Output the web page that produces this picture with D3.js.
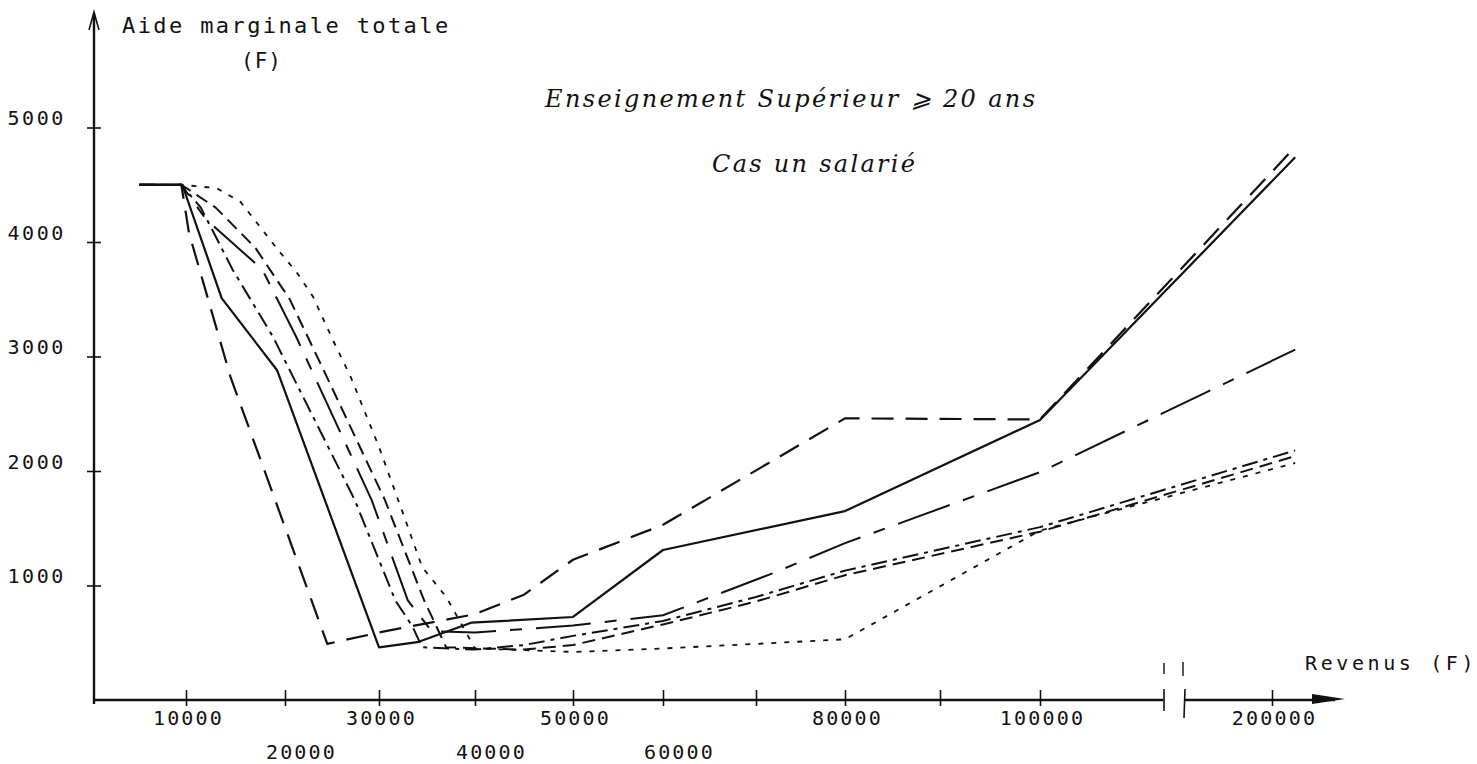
<!DOCTYPE html>
<html><head><meta charset="utf-8">
<script src="https://cdn.jsdelivr.net/npm/d3@7/dist/d3.min.js"></script>
<style>body{margin:0;background:#fff}svg{display:block}</style>
</head><body>
<svg id="chart" width="1477" height="764"></svg>
<script>
// ---- data ----
const xTickValues = [10000,20000,30000,40000,50000,60000,70000,80000,90000,100000,200000];
const xTickLabels = ["10000","20000","30000","40000","50000","60000","","80000","","100000","200000"];
const xTickRow    = [0,1,0,1,0,1,0,0,0,0,0];
const yTickValues = [1000,2000,3000,4000,5000];
const yTickLabels = ["1000","2000","3000","4000","5000"];

// revenu (F), aide marginale totale (F)
const serieTrait = [[5000,4500],[9600,4500],[13600,3510],[19200,2880],[30000,460],[34000,505],[39600,675],[50000,725],[60000,1310],[80000,1650],[100000,2445],[210000,4740]];
const serieTiretsLongs = [[5000,4500],[9500,4500],[10300,4080],[14500,2820],[24500,490],[30300,595],[40000,750],[45000,920],[50000,1225],[60000,1530],[80000,2460],[100000,2450],[210000,4830]];
const serieMixte = [[5000,4500],[9500,4500],[12000,4200],[17700,3760],[21200,3170],[29200,1750],[33000,870],[35500,600],[40000,590],[50000,650],[60000,740],[72000,1110],[80000,1370],[100000,1990],[210000,3060]];
const serieTirets1 = [[5000,4500],[9500,4500],[11500,4300],[14700,3760],[18800,3170],[27400,1750],[31700,870],[33500,640],[34500,460],[40000,440],[45000,480],[50000,560],[60000,690],[70000,900],[80000,1130],[100000,1510],[210000,2180]];
const serieTirets2 = [[5000,4500],[9500,4500],[13000,4300],[17000,3950],[20500,3500],[24000,2900],[30600,1750],[34700,870],[37000,460],[45000,440],[50000,480],[60000,660],[70000,860],[80000,1090],[100000,1470],[210000,2130]];
const seriePointilles = [[5000,4500],[9500,4500],[13100,4470],[15500,4350],[17500,4130],[19300,3930],[21200,3740],[23000,3520],[25000,3160],[27000,2820],[30000,2210],[32500,1630],[34500,1160],[37000,900],[40000,450],[50000,420],[60000,450],[70000,490],[80000,530],[100000,1480],[210000,2070]];

const titre1 = "Enseignement Supérieur  ⩾ 20 ans";
const titre2 = "Cas un salarié";
const yTitre = "Aide marginale totale";
const yUnite = "(F)";
const xTitre = "Revenus  (F)";

// ---- drawing ----
const svg = d3.select("#chart");
const ink = "#111";
const mono = "'DejaVu Sans Mono', 'Liberation Mono', monospace";

// hand-drawn axis: irregular graduation spacing
const x = d3.scaleLinear()
  .domain([0,10000,20000,30000,40000,50000,60000,70000,80000,90000,100000,200000])
  .range([93,186,285,379,475,573,663,756,845,940,1040,1272]);
const y = d3.scaleLinear().domain([0,5000]).range([700,127.5]);

// axes lines
const axisG = svg.append("g").attr("stroke", ink).attr("fill","none");
axisG.append("line").attr("x1",94).attr("x2",94).attr("y1",y(0)+4).attr("y2",14).attr("stroke-width",2.4);
axisG.append("path").attr("d","M89,30 L94,12 L99,30").attr("stroke-width",1.6);
axisG.append("line").attr("x1",93).attr("x2",1163).attr("y1",y(0)).attr("y2",y(0)).attr("stroke-width",2.4);
axisG.append("line").attr("x1",1185).attr("x2",1335).attr("y1",y(0)).attr("y2",y(0)).attr("stroke-width",2.4);
axisG.append("path").attr("d","M1312,694 L1345,699 L1312,704 Z").attr("fill",ink).attr("stroke","none");
// break marks
axisG.append("line").attr("x1",1164).attr("x2",1164).attr("y1",689).attr("y2",711).attr("stroke-width",1.6);
axisG.append("line").attr("x1",1185).attr("x2",1184).attr("y1",689).attr("y2",718).attr("stroke-width",1.6);
axisG.append("line").attr("x1",1164).attr("x2",1164).attr("y1",663).attr("y2",674).attr("stroke-width",1.4);
axisG.append("line").attr("x1",1183).attr("x2",1183).attr("y1",662).attr("y2",676).attr("stroke-width",1.4);

// x axis ticks + labels through d3.axisBottom
const xAxis = d3.axisBottom(x).tickValues(xTickValues).tickSize(0).tickFormat((d,i)=>xTickLabels[i]);
const gx = svg.append("g").attr("transform",`translate(0,${y(0)})`).call(xAxis);
gx.select(".domain").remove();
gx.selectAll(".tick line").attr("y1",-10).attr("y2",6).attr("stroke",ink).attr("stroke-width",1.6);
gx.selectAll(".tick text")
  .attr("font-family",mono).attr("font-size",20).attr("letter-spacing",2.2).attr("fill",ink)
  .attr("y",(d,i)=>xTickRow[i] ? 59 : 25)
  .attr("dy",0)
  .attr("dx",(d,i)=>xTickRow[i] ? 16 : 2);

// y axis ticks + labels through d3.axisLeft
const yAxis = d3.axisLeft(y).tickValues(yTickValues).tickSize(0).tickFormat((d,i)=>yTickLabels[i]);
const gy = svg.append("g").attr("transform","translate(94,0)").call(yAxis);
gy.select(".domain").remove();
gy.selectAll(".tick line").attr("x1",-7).attr("x2",7).attr("stroke",ink).attr("stroke-width",1.6);
gy.selectAll(".tick text")
  .attr("font-family",mono).attr("font-size",20).attr("letter-spacing",2.6).attr("fill",ink)
  .attr("x",-28).attr("dy",-3);

// series
const line = d3.line().x(d=>x(d[0])).y(d=>y(d[1]));
const series = [
  {data: seriePointilles, dash:"5,8", w:1.8},
  {data: serieTirets2, dash:"13,7", w:2},
  {data: serieTirets1, dash:"16,6,4,6", w:2},
  {data: serieMixte, dash:"55,14,12,14", w:2},
  {data: serieTiretsLongs, dash:"22,12", w:2.2},
  {data: serieTrait, dash:null, w:2.2}
];
svg.append("g").selectAll("path").data(series).join("path")
  .attr("d",s=>line(s.data))
  .attr("fill","none").attr("stroke",ink)
  .attr("stroke-width",s=>s.w)
  .attr("stroke-dasharray",s=>s.dash)
  .attr("stroke-linejoin","round");

// texts
svg.append("text").attr("x",122).attr("y",33).attr("font-family",mono).attr("font-size",22)
  .attr("letter-spacing",2.4).attr("fill",ink).text(yTitre);
svg.append("text").attr("x",241).attr("y",68).attr("font-family",mono).attr("font-size",21)
  .attr("letter-spacing",1).attr("fill",ink).text(yUnite);
svg.append("text").attr("x",1305).attr("y",670).attr("font-family",mono).attr("font-size",20)
  .attr("letter-spacing",3.6).attr("fill",ink).text(xTitre);
svg.append("text").attr("x",545).attr("y",107).attr("font-family","'DejaVu Serif', serif")
  .attr("font-style","italic").attr("font-size",24).attr("fill",ink)
  .attr("textLength",490).attr("lengthAdjust","spacing").text(titre1);
svg.append("text").attr("x",712).attr("y",172).attr("font-family","'DejaVu Serif', serif")
  .attr("font-style","italic").attr("font-size",24).attr("fill",ink)
  .attr("textLength",203).attr("lengthAdjust","spacing").text(titre2);
</script>
</body></html>
